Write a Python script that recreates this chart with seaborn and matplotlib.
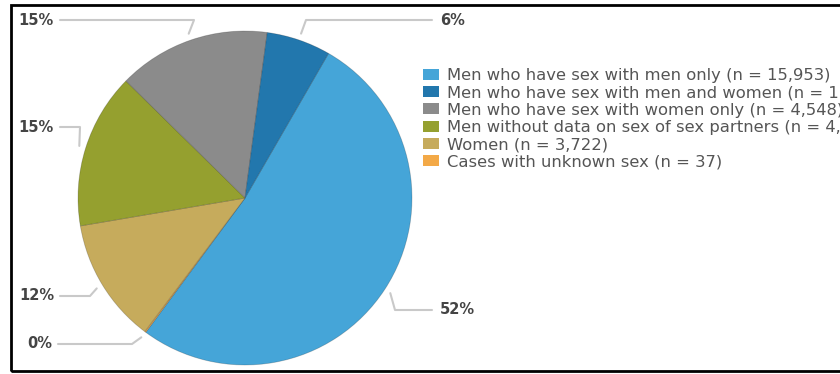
import numpy as np
import seaborn as sns
import matplotlib
matplotlib.use('Agg')
import matplotlib.pyplot as plt
from matplotlib.patches import Rectangle

sns.set_style('white')
plt.rcParams['font.family'] = ['DejaVu Sans']

#the six groups of cases, in the order they are drawn (clockwise from the top right)
groups = ['Men who have sex with men only',
          'Men who have sex with men and women',
          'Men who have sex with women only',
          'Men without data on sex of sex partners',
          'Women',
          'Cases with unknown sex']
counts = [15953, 1911, 4548, 4632, 3722, 37]
slice_colors = ['#45a5d8', '#2277ad', '#8b8b8b', '#95a02f', '#c6ab5c', '#f3a947']

#pie order goes MSM first, then clockwise round through the smallest groups
pie_order = [0, 5, 4, 3, 2, 1]

W, H = 840, 374
def py(y):
    #flip a pixel row (from the top) into data coords
    return H - y

#layout of the percentage labels: elbow of the leader line, end of the line
label_elbow = {0: (395, 310), 1: (306, 20), 2: (194, 20), 3: (80, 127), 4: (90, 296), 5: (132, 344)}
label_end_x = {0: 432, 1: 432, 2: 60, 3: 60, 4: 60, 5: 58}

fig = plt.figure(figsize=(W / 100, H / 100), dpi=100)
ax = fig.add_axes([0, 0, 1, 1])

ordered_counts = [counts[i] for i in pie_order]
ordered_colors = [slice_colors[i] for i in pie_order]
center = (245, py(198))
radius = 167
wedges, _ = ax.pie(ordered_counts, colors=ordered_colors, startangle=60, counterclock=False,
                   center=center, radius=radius,
                   wedgeprops={'edgecolor': (0, 0, 0, 0.2), 'linewidth': 0.6})
ax.set_xlim(0, W)
ax.set_ylim(0, H)
ax.set_aspect('equal')
ax.axis('off')

total = sum(counts)
line_color = '#c9c9c9'
for wedge, grp_ind in zip(wedges, pie_order):
    mid_angle = np.deg2rad((wedge.theta1 + wedge.theta2) / 2)
    x0 = center[0] + 1.04 * radius * np.cos(mid_angle)
    y0 = center[1] + 1.04 * radius * np.sin(mid_angle)
    ex, ey = label_elbow[grp_ind]
    end_x = label_end_x[grp_ind]
    ax.plot([x0, ex, end_x], [y0, py(ey), py(ey)], color=line_color, linewidth=1.5,
            solid_capstyle='round', zorder=1)
    pct = f'{round(100 * counts[grp_ind] / total)}%'
    if end_x > center[0]:
        ax.text(end_x + 8, py(ey), pct, ha='left', va='center', fontsize=10.5,
                fontweight='bold', color='#444444')
    else:
        ax.text(end_x - 6, py(ey), pct, ha='right', va='center', fontsize=10.5,
                fontweight='bold', color='#444444')

#legend with the case counts, it runs off the right edge like the original
legend_labels = [f'{g} (n = {c:,})' for g, c in zip(groups, counts)]
legend_handles = [wedges[pie_order.index(i)] for i in range(len(groups))]
leg = fig.legend(legend_handles, legend_labels, loc='upper left',
                 bbox_to_anchor=(423 / W, 1 - 68 / H), frameon=False, fontsize=11.8,
                 handlelength=0.95, handleheight=0.65, handletextpad=0.5,
                 labelspacing=0.14, borderpad=0, borderaxespad=0)
for txt in leg.get_texts():
    txt.set_color('#555555')
for handle in leg.legend_handles:
    handle.set_edgecolor('none')

#black frame round the figure (right side is cut off)
fig.add_artist(Rectangle((11 / W, 1 - 371 / H), 1.0, (371 - 5) / H, transform=fig.transFigure,
                         fill=False, edgecolor='black', linewidth=2))

plt.savefig('out.png', dpi=100)
plt.close()
